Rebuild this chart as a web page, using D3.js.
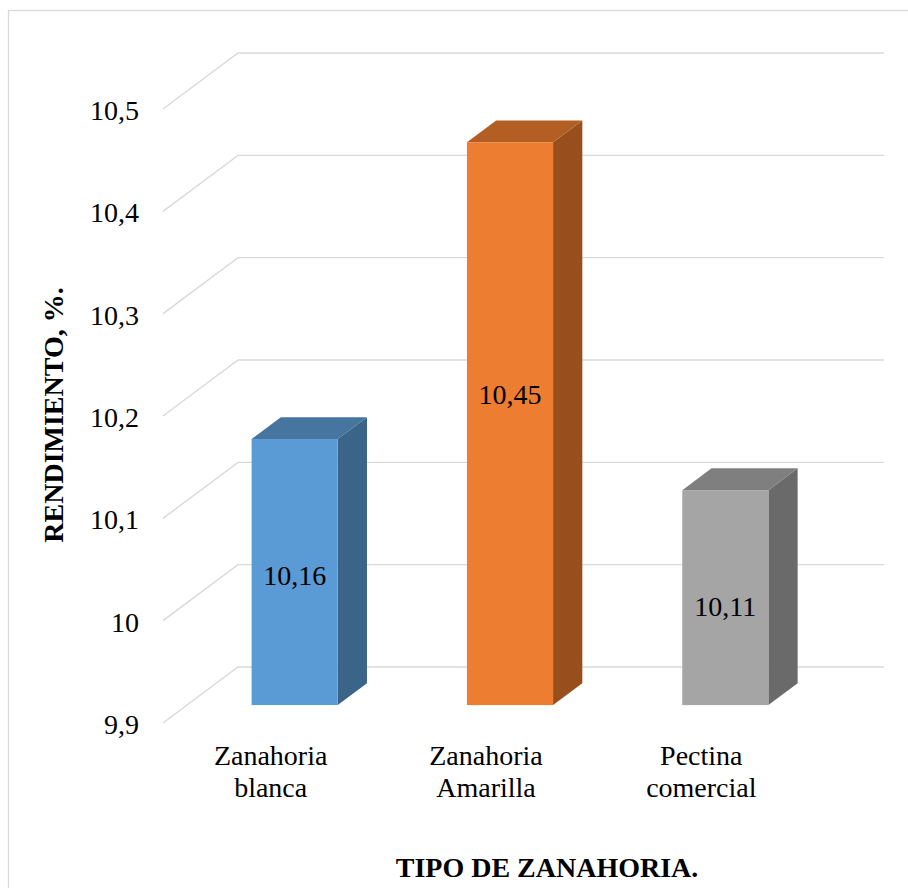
<!DOCTYPE html>
<html>
<head>
<meta charset="utf-8">
<script src="https://cdn.jsdelivr.net/npm/d3@7/dist/d3.min.js"></script>
<style>
  html, body { margin: 0; padding: 0; background: #ffffff; }
  svg { display: block; }
  text { font-family: "Liberation Serif", "Times New Roman", serif; fill: #000; }
</style>
</head>
<body>
<svg id="chart" width="908" height="888"></svg>
<script>
// Data
const categories = ["Zanahoria blanca", "Zanahoria Amarilla", "Pectina comercial"];
const categoryLines = [["Zanahoria", "blanca"], ["Zanahoria", "Amarilla"], ["Pectina", "comercial"]];
const values = [10.16, 10.45, 10.11];
const yTicks = [9.9, 10, 10.1, 10.2, 10.3, 10.4, 10.5];
const yTitle = "RENDIMIENTO, %.";
const xTitle = "TIPO DE ZANAHORIA.";

// Face colours (front, top, side)
const frontColors = ["#5B9BD5", "#ED7D31", "#A5A5A5"];
const topColors = ["#46769F", "#B35E22", "#7F7F7F"];
const sideColors = ["#3B6489", "#984F1D", "#6A6A6A"];

const svg = d3.select("#chart");
const W = 908, H = 888;

// Chart area border
svg.append("rect")
  .attr("x", 8.5).attr("y", 10.5)
  .attr("width", W + 10).attr("height", H + 10)
  .attr("fill", "none").attr("stroke", "#D9D9D9").attr("stroke-width", 1.3);

// Oblique projection: front plane plus a depth vector towards the back wall
const floorLeft = 163, floorRight = 809;
const depth = { x: 75, y: -56 };
const y = d3.scaleLinear().domain([9.9, 10.5]).range([723, 109]);
const x = d3.scaleBand().domain(categories).range([floorLeft, floorRight]);

const gridColor = "#D9D9D9";
const fmt = d3.formatLocale({ decimal: ",", thousands: ".", grouping: [3], currency: ["", ""] }).format("~g");

// Side-wall diagonals and back-wall gridlines
svg.append("g").selectAll("path")
  .data(yTicks)
  .join("path")
  .attr("d", v => {
    const p = d3.path();
    p.moveTo(floorLeft, y(v));
    p.lineTo(floorLeft + depth.x, y(v) + depth.y);
    p.lineTo(floorRight + depth.x, y(v) + depth.y);
    return p.toString();
  })
  .attr("fill", "none")
  .attr("stroke", gridColor)
  .attr("stroke-width", 1.4);

// Value axis labels
const yAxis = svg.append("g")
  .attr("transform", `translate(${floorLeft},0)`)
  .call(d3.axisLeft(y).tickValues(yTicks).tickFormat(fmt).tickSize(0).tickPadding(24));
yAxis.select(".domain").remove();
yAxis.selectAll("text")
  .attr("font-family", "Liberation Serif, Times New Roman, serif")
  .attr("font-size", 28)
  .attr("fill", "#000")
  .attr("dy", "0.38em");

// Columns
const t0 = 0.32, t1 = 0.71;               // front and back depth of each column
const barW = x.bandwidth() * 0.4;
const base = 9.9;

const bars = svg.append("g").selectAll("g")
  .data(values.map((v, i) => ({ v, i, cat: categories[i] })))
  .join("g");

function geom(d) {
  const cx = x(d.cat) + x.bandwidth() / 2;
  const xl = cx - barW / 2 + depth.x * t0;
  const xr = xl + barW;
  const top = y(d.v) + depth.y * t0;
  const bottom = y(base) + depth.y * t0;
  const dx = depth.x * (t1 - t0), dy = depth.y * (t1 - t0);
  return { xl, xr, top, bottom, dx, dy };
}

bars.append("path")
  .attr("d", d => {
    const g = geom(d);
    return `M${g.xr},${g.top}L${g.xr + g.dx},${g.top + g.dy}L${g.xr + g.dx},${g.bottom + g.dy}L${g.xr},${g.bottom}Z`;
  })
  .attr("fill", d => sideColors[d.i]);

bars.append("path")
  .attr("d", d => {
    const g = geom(d);
    return `M${g.xl},${g.top}L${g.xl + g.dx},${g.top + g.dy}L${g.xr + g.dx},${g.top + g.dy}L${g.xr},${g.top}Z`;
  })
  .attr("fill", d => topColors[d.i]);

bars.append("rect")
  .attr("x", d => geom(d).xl)
  .attr("y", d => geom(d).top)
  .attr("width", barW)
  .attr("height", d => geom(d).bottom - geom(d).top)
  .attr("fill", d => frontColors[d.i]);

// Value labels inside the columns
bars.append("text")
  .attr("x", d => { const g = geom(d); return (g.xl + g.xr) / 2; })
  .attr("y", d => {
    const g = geom(d);
    const h = g.bottom - g.top;
    return g.bottom - (0.61 * h - 32);
  })
  .attr("dy", "0.35em")
  .attr("text-anchor", "middle")
  .attr("font-size", 28)
  .text(d => fmt(d.v));

// Category labels (two lines each)
const catLabels = svg.append("g").selectAll("text")
  .data(categories.map((c, i) => ({ c, i })))
  .join("text")
  .attr("text-anchor", "middle")
  .attr("font-size", 28)
  .attr("x", d => x(d.c) + x.bandwidth() / 2)
  .attr("y", y(base) + 42);
catLabels.selectAll("tspan")
  .data(d => categoryLines[d.i].map(t => ({ t, x: x(d.c) + x.bandwidth() / 2 })))
  .join("tspan")
  .attr("x", d => d.x)
  .attr("dy", (d, j) => j === 0 ? 0 : 32)
  .text(d => d.t);

// Axis titles
svg.append("text")
  .attr("transform", "translate(63,415) rotate(-90)")
  .attr("text-anchor", "middle")
  .attr("font-size", 28)
  .attr("font-weight", "bold")
  .text(yTitle);

svg.append("text")
  .attr("x", 547)
  .attr("y", 877)
  .attr("text-anchor", "middle")
  .attr("font-size", 28)
  .attr("font-weight", "bold")
  .text(xTitle);
</script>
</body>
</html>
